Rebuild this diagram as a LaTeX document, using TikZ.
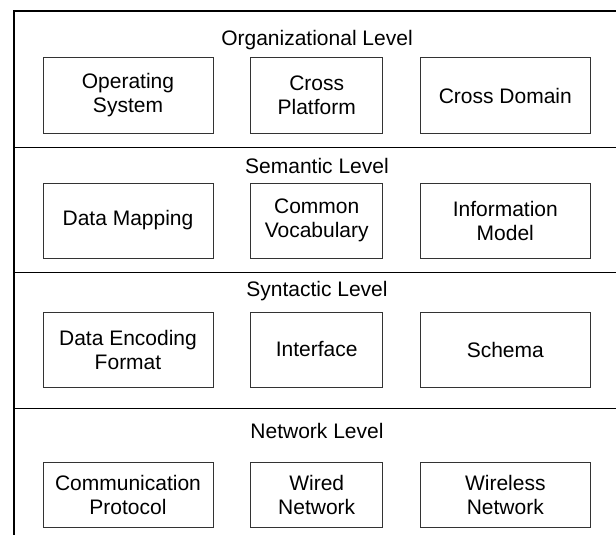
\documentclass[tikz,border=0pt]{standalone}
\usepackage{fontspec}
\setmainfont{Liberation Sans}

\begin{document}
\begin{tikzpicture}[
    x=1pt, y=-1pt,
    every node/.style={align=center, font=\fontsize{21}{24}\selectfont},
    title/.style={anchor=base, inner sep=0pt},
    box/.style={rectangle, draw=black!80, line width=1pt, inner sep=0pt, minimum height=75pt},
    wideBox/.style={box, minimum width=170pt},
    narrowBox/.style={box, minimum width=132pt}
]
\useasboundingbox (0,0) rectangle (616,535);
\clip (0,0) rectangle (616,535);

% Frame and level separators
\draw[line width=2pt] (14,11) rectangle (640,560);
\draw[line width=1pt] (14,147) -- (640,147);
\draw[line width=1pt] (14,272) -- (640,272);
\draw[line width=1pt] (14,408) -- (640,408);

% Level titles
\node[title] (orgLevel) at (317,46) {Organizational Level};
\node[title] (semLevel) at (317,173) {Semantic Level};
\node[title] (synLevel) at (317,296) {Syntactic Level};
\node[title] (netLevel) at (317,438) {Network Level};

% Nodes
\node[wideBox] (os) at (128,95.5) {Operating\\System};
\node[narrowBox] (xplatform) at (316.7,95.5) {Cross\\Platform};
\node[wideBox] (xdomain) at (505.3,95.5) {Cross Domain};

\node[wideBox] (mapping) at (128,220.5) {Data Mapping};
\node[narrowBox] (vocab) at (316.7,220.5) {Common\\Vocabulary};
\node[wideBox] (infomodel) at (505.3,220.5) {Information\\Model};

\node[wideBox] (encoding) at (128,349.5) {Data Encoding\\Format};
\node[narrowBox] (iface) at (316.7,349.5) {Interface};
\node[wideBox] (schema) at (505.3,349.5) {Schema};

\node[wideBox, minimum height=65pt] (protocol) at (128,494.5) {Communication\\Protocol};
\node[narrowBox, minimum height=65pt] (wired) at (316.7,494.5) {Wired\\Network};
\node[wideBox, minimum height=65pt] (wireless) at (505.3,494.5) {Wireless\\Network};

\end{tikzpicture}
\end{document}
